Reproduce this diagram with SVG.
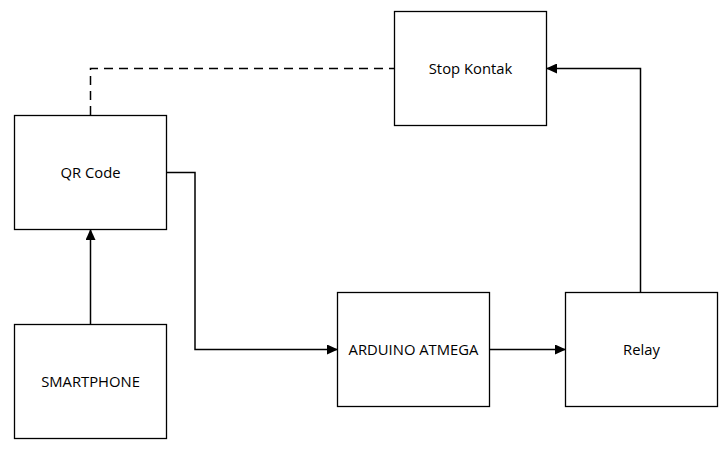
<svg xmlns="http://www.w3.org/2000/svg" width="725" height="452" viewBox="0 0 725 452">
<style>
.box{fill:#fff;stroke:#000;stroke-width:1.3}
.lbl{font-family:"Open Sans","Liberation Sans",sans-serif;font-size:14.8px;fill:#000;text-anchor:middle;dominant-baseline:central}
.c{fill:none;stroke:#000;stroke-width:1.5}
.d{stroke-dasharray:9,6}
</style>
<defs>
<marker id="ah" markerWidth="11" markerHeight="10" refX="10" refY="5" orient="auto" markerUnits="userSpaceOnUse">
<path d="M0,0 L11,5 L0,10 Z" fill="#000"/>
</marker>
</defs>
<rect width="725" height="452" fill="#fff"/>
<g id="connectors">
<path class="c d" d="M90.5,115 V68.5 H394"/>
<path class="c" d="M90.5,324 V230" marker-end="url(#ah)"/>
<path class="c" d="M167,172.5 H195 V349.5 H337" marker-end="url(#ah)"/>
<path class="c" d="M490,349.5 H565" marker-end="url(#ah)"/>
<path class="c" d="M640.5,292 V68.5 H547" marker-end="url(#ah)"/>
</g>
<g id="stop-kontak"><rect class="box" x="394.5" y="11.5" width="152" height="114"/><text class="lbl" x="470.5" y="68">Stop Kontak</text></g>
<g id="qr-code"><rect class="box" x="14.5" y="115.5" width="152" height="114"/><text class="lbl" x="90.5" y="172">QR Code</text></g>
<g id="smartphone"><rect class="box" x="14.5" y="324.5" width="152" height="114"/><text class="lbl" x="90.5" y="381">SMARTPHONE</text></g>
<g id="arduino"><rect class="box" x="337.5" y="292.5" width="152" height="114"/><text class="lbl" x="413.5" y="349">ARDUINO ATMEGA</text></g>
<g id="relay"><rect class="box" x="565.5" y="292.5" width="152" height="114"/><text class="lbl" x="641.5" y="349">Relay</text></g>
</svg>
